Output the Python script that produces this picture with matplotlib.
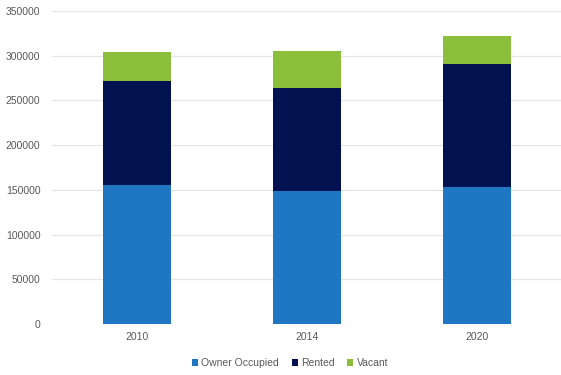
import matplotlib
matplotlib.use("Agg")
import matplotlib.pyplot as plt
import numpy as np

years = ["2010", "2014", "2020"]
owner_occupied = [155200, 148200, 152700]
rented = [116300, 115800, 138400]
vacant = [33000, 41200, 30800]
y_ticks = [0, 50000, 100000, 150000, 200000, 250000, 300000, 350000]

plt.rcParams['font.family'] = ['Liberation Sans', 'DejaVu Sans']

fig = plt.figure(figsize=(5.61, 3.75), dpi=100)
ax = fig.add_axes([0.092, 0.136, 0.91, 0.835])

x = np.arange(len(years))
w = 0.40
c_owner = "#1F77C4"
c_rent = "#02114F"
c_vac = "#8BBE3A"
b1 = ax.bar(x, owner_occupied, w, color=c_owner, label="Owner Occupied", zorder=3)
b2 = ax.bar(x, rented, w, bottom=owner_occupied, color=c_rent, label="Rented", zorder=3)
bot = np.array(owner_occupied) + np.array(rented)
b3 = ax.bar(x, vacant, w, bottom=bot, color=c_vac, label="Vacant", zorder=3)

ax.set_xlim(-0.5, 2.5)
ax.set_ylim(0, 350000)
ax.set_yticks(y_ticks)
ax.set_yticklabels([str(v) for v in y_ticks])
ax.set_xticks(x)
ax.set_xticklabels(years)
ax.grid(axis='y', color='#E6E6E6', linewidth=0.9, zorder=0)
for s in ax.spines.values():
    s.set_visible(False)
ax.tick_params(axis='both', length=0, labelsize=7.5, labelcolor='#595959')
ax.tick_params(axis='y', pad=8)
ax.tick_params(axis='x', pad=6)

leg = fig.legend(handles=[b1, b2, b3], loc='center', bbox_to_anchor=(0.517, 0.032),
                 ncol=3, frameon=False, fontsize=7.5, handlelength=0.6, handleheight=0.6,
                 handletextpad=0.3, columnspacing=1.2)
for t in leg.get_texts():
    t.set_color('#595959')

fig.savefig("out.png", dpi=100)
